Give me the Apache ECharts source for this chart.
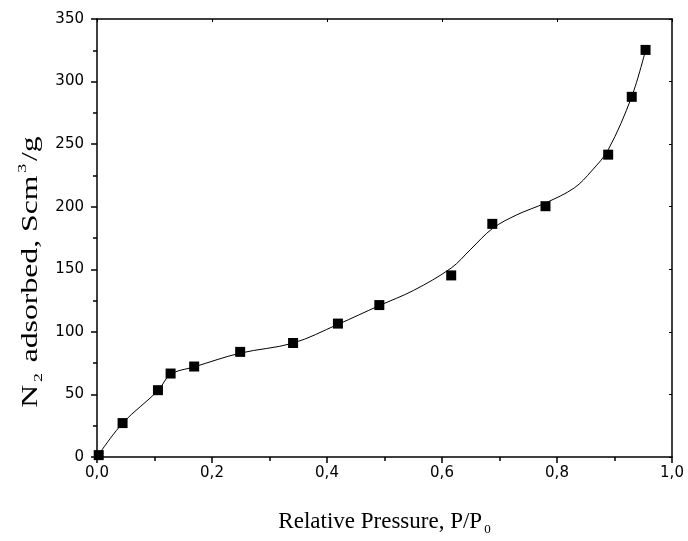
<!DOCTYPE html>
<html><head><meta charset="utf-8">
<script src="https://cdn.jsdelivr.net/npm/echarts@6/dist/echarts.min.js"></script>
<style>html,body{margin:0;padding:0;background:#fff}#c{width:688px;height:541px}</style>
</head><body><div id="c"></div>
<script>
// measured points
var pointX = [0.003, 0.0445, 0.106, 0.128, 0.169, 0.249, 0.341, 0.419, 0.491, 0.616, 0.6875, 0.780, 0.889, 0.930, 0.954];
var pointY = [1.5, 27.1, 53.4, 66.7, 72.3, 84.0, 91.1, 106.6, 121.4, 145.1, 186.3, 200.4, 241.6, 287.8, 325.3];
// fitted curve
var curveX = [0.0, 0.0445, 0.106, 0.128, 0.169, 0.249, 0.341, 0.419, 0.491, 0.55, 0.616, 0.65, 0.6875, 0.73, 0.780, 0.83, 0.86, 0.889, 0.930, 0.954];
var curveY = [0.0, 27.0, 53.0, 66.0, 72.0, 83.0, 91.0, 106.0, 121.0, 133.0, 151.0, 166.0, 182.5, 193.5, 203.0, 215.0, 228.5, 245.5, 288.0, 325.0];
var xTicks = [0, 0.2, 0.4, 0.6, 0.8, 1.0];
var yTicks = [0, 50, 100, 150, 200, 250, 300, 350];
var yTitle = '{n|N}{sub|2}{n| adsorbed, Scm}{sup|3}{n|/g}';
var xTitle = '{n|Relative Pressure, P/P}{sub|0}';

var chart = echarts.init(document.getElementById('c'));
var AX = '#000';
function fmtX(v){ return v.toFixed(1).replace('.', ','); }
var pts = pointX.map(function(x,i){ return [x, pointY[i]]; });
var crv = curveX.map(function(x,i){ return [x, curveY[i]]; });
chart.setOption({
  animation: false,
  backgroundColor: '#fff',
  grid: {left: 97, right: 16, top: 19, bottom: 83},
  graphic: [{
    type: 'text', x: 31, y: 272, rotation: Math.PI / 2, scaleX: 1.38, scaleY: 1,
    style: {
      text: yTitle, align: 'center', verticalAlign: 'middle',
      rich: {
        n: {fontFamily: 'Liberation Serif', fontSize: 23, fill: '#000'},
        sub: {fontFamily: 'Liberation Serif', fontSize: 13, fill: '#000', padding: [16, 2, 0, 2]},
        sup: {fontFamily: 'Liberation Serif', fontSize: 13, fill: '#000', padding: [0, 2, 16, 2]}
      }
    }
  }],
  xAxis: [{
    type: 'value', min: xTicks[0], max: xTicks[xTicks.length-1], interval: 0.2,
    axisLine: {onZero: false, lineStyle: {color: AX, width: 1.5}},
    axisTick: {length: 6, lineStyle: {color: AX, width: 1.5}},
    minorTick: {show: true, splitNumber: 2, length: 4, lineStyle: {color: AX, width: 1.5}},
    splitLine: {show: false},
    axisLabel: {formatter: fmtX, color: '#000', fontFamily: 'DejaVu Sans', fontSize: 15, margin: 9},
    name: xTitle, nameLocation: 'middle', nameGap: 50,
    nameTextStyle: {rich: {
      n: {fontFamily: 'Liberation Serif', fontSize: 23, color: '#000'},
      sub: {fontFamily: 'Liberation Serif', fontSize: 13, color: '#000', padding: [16, 0, 0, 2]}
    }}
  }, {
    type: 'value', position: 'top', min: 0, max: 1, interval: 0.2,
    axisLine: {onZero: false, lineStyle: {color: AX, width: 1.5}},
    axisTick: {inside: true, length: 3, lineStyle: {color: AX, width: 1}},
    axisLabel: {show: false}, splitLine: {show: false}
  }],
  yAxis: [{
    type: 'value', min: yTicks[0], max: yTicks[yTicks.length-1], interval: 50,
    axisLine: {onZero: false, lineStyle: {color: AX, width: 1.5}},
    axisTick: {length: 6, lineStyle: {color: AX, width: 1.5}},
    minorTick: {show: true, splitNumber: 2, length: 4, lineStyle: {color: AX, width: 1.5}},
    splitLine: {show: false},
    axisLabel: {color: '#000', fontFamily: 'DejaVu Sans', fontSize: 15, margin: 13}
  }, {
    type: 'value', position: 'right', min: 0, max: 350, interval: 50,
    axisLine: {onZero: false, lineStyle: {color: AX, width: 1.5}},
    axisTick: {inside: true, length: 3, lineStyle: {color: AX, width: 1}},
    axisLabel: {show: false}, splitLine: {show: false}
  }],
  series: [{
    type: 'line', data: crv, smooth: 0.35, showSymbol: false, symbol: 'none',
    lineStyle: {color: '#000', width: 1}, silent: true, z: 2
  }, {
    type: 'scatter', data: pts, symbol: 'rect', symbolSize: 10,
    itemStyle: {color: '#000', opacity: 1}, z: 3
  }]
});
</script></body></html>
